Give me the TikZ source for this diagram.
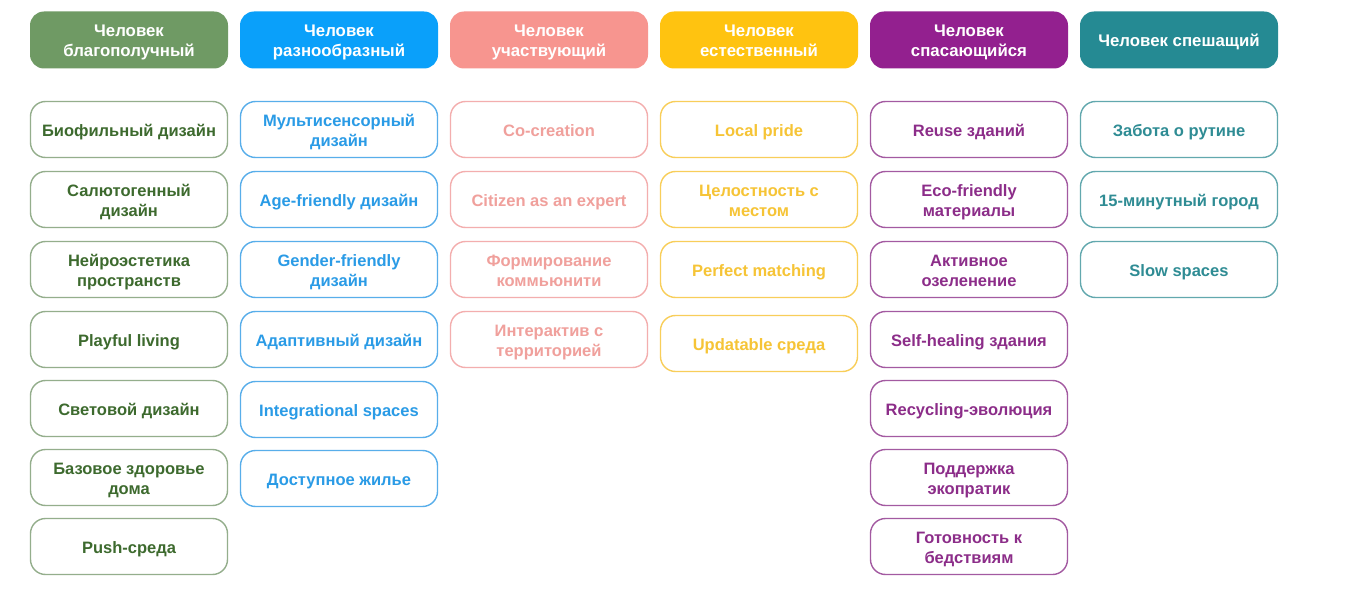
\documentclass[tikz,border=0pt]{standalone}
\usepackage{fontspec}
\setmainfont{Liberation Sans}
\definecolor{hgreen}{HTML}{6F9A64}\definecolor{bgreen}{HTML}{94AE8C}\definecolor{tgreen}{HTML}{3D6A2E}
\definecolor{hblue}{HTML}{0AA0FA}\definecolor{bblue}{HTML}{58AEEA}\definecolor{tblue}{HTML}{2A9BE6}
\definecolor{hpink}{HTML}{F7958F}\definecolor{bpink}{HTML}{F3AEAE}\definecolor{tpink}{HTML}{F0A09C}
\definecolor{hyellow}{HTML}{FFC310}\definecolor{byellow}{HTML}{F8CE5A}\definecolor{tyellow}{HTML}{F6C436}
\definecolor{hviolet}{HTML}{93208F}\definecolor{bviolet}{HTML}{A35AA1}\definecolor{tviolet}{HTML}{8C2D89}
\definecolor{hteal}{HTML}{258A93}\definecolor{bteal}{HTML}{62A8AE}\definecolor{tteal}{HTML}{2F8C94}
\newcommand{\ystrut}{\rule[-3.5pt]{0pt}{20.5pt}}
\newcommand{\nl}{\ystrut\\\ystrut}
\begin{document}
\begin{tikzpicture}[x=1pt,y=-1pt,
  base/.style={align=center, inner sep=0pt, execute at begin node=\ystrut,
    font=\bfseries\fontsize{16.5}{20.5}\selectfont},
  hdr/.style={base, rounded corners=14pt, minimum width=198pt, minimum height=57pt,
    text=white, font=\bfseries\fontsize{16.8}{20.5}\selectfont},
  itm/.style={base, draw, line width=1.4pt, rounded corners=15pt, minimum width=197pt,
    minimum height=56pt, fill=white},
  gh/.style={hdr, fill=hgreen}, gi/.style={itm, draw=bgreen, text=tgreen},
  bh/.style={hdr, fill=hblue}, bi/.style={itm, draw=bblue, text=tblue},
  ph/.style={hdr, fill=hpink}, pi/.style={itm, draw=bpink, text=tpink},
  yh/.style={hdr, fill=hyellow}, yi/.style={itm, draw=byellow, text=tyellow},
  vh/.style={hdr, fill=hviolet}, vi/.style={itm, draw=bviolet, text=tviolet},
  th/.style={hdr, fill=hteal}, ti/.style={itm, draw=bteal, text=tteal}]
\useasboundingbox (0,0) rectangle (1345,599);
\fill[white] (0,0) rectangle (1345,599);
% headers
\node[gh] (h1) at (129,40) {Человек\nl благополучный};
\node[bh] (h2) at (339,40) {Человек\nl разнообразный};
\node[ph] (h3) at (549,40) {Человек\nl участвующий};
\node[yh] (h4) at (759,40) {Человек\nl естественный};
\node[vh] (h5) at (969,40) {Человек\nl спасающийся};
\node[th] (h6) at (1179,40) {Человек спешащий};
% column 1
\node[gi] (a1) at (129,129.5) {Биофильный дизайн};
\node[gi] (a2) at (129,199.5) {Салютогенный\nl дизайн};
\node[gi] (a3) at (129,269.5) {Нейроэстетика\nl пространств};
\node[gi] (a4) at (129,339.5) {Playful living};
\node[gi] (a5) at (129,408.5) {Световой дизайн};
\node[gi] (a6) at (129,477.5) {Базовое здоровье\nl дома};
\node[gi] (a7) at (129,546.5) {Push-среда};
% column 2
\node[bi] (b1) at (339,129.5) {Мультисенсорный\nl дизайн};
\node[bi] (b2) at (339,199.5) {Age-friendly дизайн};
\node[bi] (b3) at (339,269.5) {Gender-friendly\nl дизайн};
\node[bi] (b4) at (339,339.5) {Адаптивный дизайн};
\node[bi] (b5) at (339,409.5) {Integrational spaces};
\node[bi] (b6) at (339,478.5) {Доступное жилье};
% column 3
\node[pi] (c1) at (549,129.5) {Co-creation};
\node[pi] (c2) at (549,199.5) {Citizen as an expert};
\node[pi] (c3) at (549,269.5) {Формирование\nl коммьюнити};
\node[pi] (c4) at (549,339.5) {Интерактив с\nl территорией};
% column 4
\node[yi] (d1) at (759,129.5) {Local pride};
\node[yi] (d2) at (759,199.5) {Целостность с\nl местом};
\node[yi] (d3) at (759,269.5) {Perfect matching};
\node[yi] (d4) at (759,343.5) {Updatable среда};
% column 5
\node[vi] (e1) at (969,129.5) {Reuse зданий};
\node[vi] (e2) at (969,199.5) {Eco-friendly\nl материалы};
\node[vi] (e3) at (969,269.5) {Активное\nl озеленение};
\node[vi] (e4) at (969,339.5) {Self-healing здания};
\node[vi] (e5) at (969,408.5) {Recycling-эволюция};
\node[vi] (e6) at (969,477.5) {Поддержка\nl экопратик};
\node[vi] (e7) at (969,546.5) {Готовность к\nl бедствиям};
% column 6
\node[ti] (f1) at (1179,129.5) {Забота о рутине};
\node[ti] (f2) at (1179,199.5) {15-минутный город};
\node[ti] (f3) at (1179,269.5) {Slow spaces};
\end{tikzpicture}
\end{document}
